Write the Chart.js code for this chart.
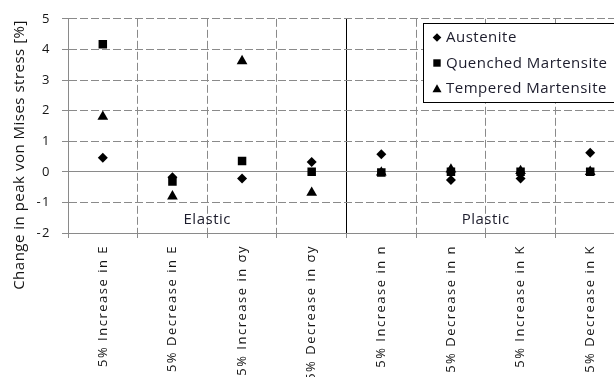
<!DOCTYPE html>
<html>
<head>
<meta charset="utf-8">
<script src="https://cdn.jsdelivr.net/npm/chart.js@4/dist/chart.umd.min.js"></script>
<style>
  html, body { margin: 0; padding: 0; background: #fff; overflow: hidden; width: 614px; height: 377px; }
  canvas { display: block; }
</style>
</head>
<body>
<canvas id="c" width="640" height="377"></canvas>
<script>
// Parameter variations (categories along the x axis)
const categories = [
  '5% Increase in E', '5% Decrease in E', '5% Increase in σy', '5% Decrease in σy',
  '5% Increase in n', '5% Decrease in n', '5% Increase in K', '5% Decrease in K'
];

// Change in peak von Mises stress [%] for each material
const austenite = [0.46, -0.18, -0.22, 0.32, 0.57, -0.27, -0.22, 0.62];
const quenchedMartensite = [4.17, -0.32, 0.35, 0.0, -0.02, 0.0, 0.0, 0.0];
const temperedMartensite = [1.8, -0.8, 3.62, -0.68, -0.02, 0.08, 0.03, 0.0];

const seriesNames = ['Austenite', 'Quenched Martensite', 'Tempered Martensite'];
const yTickValues = [-2, -1, 0, 1, 2, 3, 4, 5];

// Groups of categories labelled inside the plot
const groupNames = ['Elastic', 'Plastic'];
const groupRanges = [[0, 3], [4, 7]];
const groupLabelValue = -1.58;
const dividerIndex = 4; // boundary between the two groups

const yTitle = 'Change in peak von Mises stress [%]';

const FONT = "'Open Sans', sans-serif";
const GRID = '#8a8a8a';
const TEXT = '#141414';
const DASH = [8, 3];

function markerPath(ctx, style, x, y, r) {
  ctx.beginPath();
  if (style === 'rectRot') {
    ctx.moveTo(x, y - r); ctx.lineTo(x + r, y); ctx.lineTo(x, y + r); ctx.lineTo(x - r, y);
  } else if (style === 'rect') {
    ctx.rect(x - r, y - r, 2 * r, 2 * r);
  } else {
    ctx.moveTo(x, y - r); ctx.lineTo(x + r * 1.05, y + r * 0.85); ctx.lineTo(x - r * 1.05, y + r * 0.85);
  }
  ctx.closePath();
}

// Wider letter spacing for axis text drawn by the scales
const spacing = {
  id: 'spacing',
  beforeDraw(chart) { chart.ctx.letterSpacing = '1.5px'; },
  beforeDatasetsDraw(chart) { chart.ctx.letterSpacing = '0px'; }
};

const overlay = {
  id: 'overlay',
  afterDraw(chart) {
    const { ctx, scales: { x, y } } = chart;
    ctx.save();

    // group labels
    ctx.letterSpacing = '0.5px';
    ctx.fillStyle = '#1c1c2c';
    ctx.font = `15px ${FONT}`;
    ctx.textAlign = 'center';
    ctx.textBaseline = 'middle';
    groupNames.forEach((name, i) => {
      const [a, b] = groupRanges[i];
      const cx = (x.getPixelForValue(a) + x.getPixelForValue(b)) / 2;
      ctx.fillText(name, cx, y.getPixelForValue(groupLabelValue));
    });

    // y axis title
    ctx.save();
    ctx.translate(20, 155);
    ctx.rotate(-Math.PI / 2);
    ctx.letterSpacing = '0.5px';
    ctx.font = `15px ${FONT}`;
    ctx.fillStyle = TEXT;
    ctx.fillText(yTitle, 0, 0);
    ctx.restore();

    // legend box
    const bx = 423.5, by = 23.5, bw = 200, bh = 79;
    ctx.fillStyle = '#fff';
    ctx.fillRect(bx, by, bw, bh);
    ctx.strokeStyle = '#000';
    ctx.lineWidth = 1;
    ctx.strokeRect(bx, by, bw, bh);
    ctx.font = `15px ${FONT}`;
    ctx.letterSpacing = '0.5px';
    ctx.textAlign = 'left';
    ctx.textBaseline = 'middle';
    chart.data.datasets.forEach((ds, i) => {
      const cy = 37.5 + i * 25.5;
      ctx.fillStyle = '#000';
      markerPath(ctx, ds.pointStyle, 437, cy, ds.pointStyle === 'rect' ? 3.7 : 4.3);
      ctx.fill();
      ctx.fillStyle = '#1c1c2c';
      ctx.fillText(ds.label, 446, cy + 0.5);
    });
    ctx.restore();
  }
};

const makeSet = (label, data, style, radius) => ({
  label, data,
  pointStyle: style,
  pointRadius: radius,
  pointBackgroundColor: '#000',
  pointBorderColor: '#000',
  pointBorderWidth: 0,
  showLine: false
});

new Chart(document.getElementById('c'), {
  type: 'line',
  data: {
    labels: categories,
    datasets: [
      makeSet(seriesNames[0], austenite, 'rectRot', 5),
      makeSet(seriesNames[1], quenchedMartensite, 'rect', 6),
      makeSet(seriesNames[2], temperedMartensite, 'triangle', 6.2)
    ]
  },
  options: {
    responsive: false,
    animation: false,
    devicePixelRatio: 1,
    events: [],
    layout: { padding: { left: 0, top: 16, right: 15, bottom: 0 } },
    plugins: { legend: { display: false }, tooltip: { enabled: false } },
    scales: {
      x: {
        type: 'category',
        offset: true,
        grid: {
          offset: true,
          color: c => (c.index === dividerIndex && c.type === 'tick') ? '#000' : GRID,
          lineWidth: 1,
          tickLength: 5,
          tickColor: GRID
        },
        border: {
          color: GRID,
          dash: c => (c.type === 'tick' && c.index !== 0 && c.index !== dividerIndex) ? DASH : []
        },
        ticks: {
          autoSkip: false,
          minRotation: 90,
          maxRotation: 90,
          padding: 7,
          color: TEXT,
          font: { size: 13, family: FONT }
        },
        afterFit: s => { s.height = 144; }
      },
      y: {
        min: yTickValues[0],
        max: yTickValues[yTickValues.length - 1],
        afterBuildTicks: s => { s.ticks = yTickValues.map(v => ({ value: v })); },
        grid: {
          color: GRID,
          lineWidth: 1,
          tickLength: 6,
          tickColor: GRID
        },
        border: {
          color: GRID,
          dash: c => (c.type === 'tick' && c.tick && c.tick.value !== 0 && c.tick.value !== yTickValues[0]) ? DASH : []
        },
        ticks: {
          padding: 11,
          color: TEXT,
          font: { size: 13, family: FONT }
        },
        afterFit: s => { s.width = 68; }
      }
    }
  },
  plugins: [spacing, overlay]
});
</script>
</body>
</html>
